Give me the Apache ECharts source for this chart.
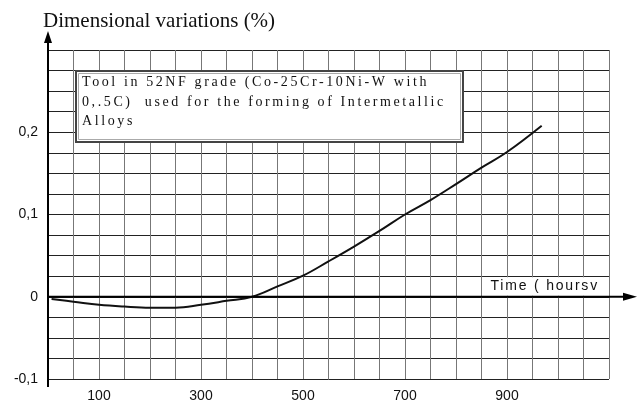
<!DOCTYPE html>
<html>
<head>
<meta charset="UTF-8">
<title>Dimensional variations</title>
<style>
  html, body { margin: 0; padding: 0; background: #fff; }
  #chart { width: 642px; height: 402px; }
</style>
</head>
<body>
<div id="chart"></div>
<script src="https://cdn.jsdelivr.net/npm/echarts@6/dist/echarts.min.js"></script>
<script>
// curve: time (hours) vs dimensional variation (%)
var hours     = [7, 50, 100, 150, 200, 250, 300, 350, 400, 450, 500, 550, 600, 650, 700, 750, 800, 850, 900, 968];
var variation = [-0.0028, -0.006, -0.0098, -0.012, -0.0133, -0.0133, -0.0098, -0.005, 0, 0.0126, 0.0256, 0.043, 0.061, 0.080, 0.100, 0.1175, 0.137, 0.157, 0.176, 0.208];

var xTickLabels = [100, 300, 500, 700, 900];
var yTickValues = [-0.1, 0, 0.1, 0.2];
var yTickLabels = ['-0,1', '0', '0,1', '0,2'];

var noteLines = [
  'Tool in 52NF grade (Co-25Cr-10Ni-W with',
  '0,.5C)  used for the forming of Intermetallic',
  'Alloys'
];
var axisName = 'Time ( hoursv';

// the scan uses wide letter spacing for the note and the axis name;
// the marker families (Tinos / Arimo) are only used to recognise those texts
var spacing = {Tinos: '2.6px', Arimo: '1.8px'};
var origFill = CanvasRenderingContext2D.prototype.fillText;
CanvasRenderingContext2D.prototype.fillText = function () {
  var ls = null;
  for (var k in spacing) { if (this.font.indexOf(k) >= 0) ls = spacing[k]; }
  if (ls && 'letterSpacing' in this) {
    var prev = this.letterSpacing;
    this.letterSpacing = ls;
    origFill.apply(this, arguments);
    this.letterSpacing = prev;
    return;
  }
  return origFill.apply(this, arguments);
};

var SERIF = "'Liberation Serif', serif";
var SANS = "'Liberation Sans', Arial, sans-serif";

var chart = echarts.init(document.getElementById('chart'), null, {renderer: 'canvas'});

chart.setOption({
  animation: false,
  textStyle: {fontFamily: SANS},
  title: {
    text: 'Dimensional variations (%)',
    left: 38, top: 6,
    textStyle: {fontFamily: SERIF, fontSize: 21, fontWeight: 'normal', color: '#111'}
  },
  grid: {left: 48, right: 33, top: 50, bottom: 23, outerBoundsMode: 'none'},
  xAxis: {
    type: 'value', min: 0, max: 1100, interval: 50,
    axisLine: {show: false}, axisTick: {show: false},
    splitLine: {show: true, lineStyle: {color: '#777', width: 1}},
    axisLabel: {
      margin: 10, color: '#111', fontSize: 14, fontFamily: SANS,
      formatter: function (v) { return xTickLabels.indexOf(Math.round(v)) >= 0 ? String(Math.round(v)) : ''; }
    }
  },
  yAxis: {
    type: 'value', min: -0.1, max: 0.3, interval: 0.025,
    axisLine: {show: false}, axisTick: {show: false},
    splitLine: {show: true, lineStyle: {color: '#222', width: 1}},
    axisLabel: {
      margin: 10, color: '#111', fontSize: 14, fontFamily: SANS,
      formatter: function (v) {
        for (var i = 0; i < yTickValues.length; i++) {
          if (Math.abs(yTickValues[i] - v) < 1e-9) return yTickLabels[i];
        }
        return '';
      }
    }
  },
  series: [{
    type: 'line',
    data: hours.map(function (h, i) { return [h, variation[i]]; }),
    smooth: 0.4, showSymbol: false, symbol: 'none',
    lineStyle: {color: '#111', width: 2},
    z: 5
  }]
});

// axes with arrows, the note box and the axis name, placed from the axis scales
var o  = chart.convertToPixel({gridIndex: 0}, [0, 0]);
var bl = chart.convertToPixel({gridIndex: 0}, [0, -0.1]);
var tr = chart.convertToPixel({gridIndex: 0}, [1100, 0.3]);
var tA = chart.convertToPixel({gridIndex: 0}, [850, 0.025]);

chart.setOption({
  graphic: [
    {type: 'rect', z: 100, shape: {x: tA[0] + 1, y: tA[1] + 1, width: tr[0] - tA[0] - 2, height: o[1] - tA[1] - 2},
     style: {fill: '#fff'}},
    {type: 'text', z: 101, x: tA[0] + 9, y: (tA[1] + o[1]) / 2,
     style: {text: axisName, fontSize: 14, fontFamily: "'Liberation Sans', Arimo", fill: '#111', verticalAlign: 'middle'}},
    {type: 'line', z: 102, shape: {x1: o[0], y1: bl[1] + 8, x2: o[0], y2: tr[1] - 12},
     style: {stroke: '#000', lineWidth: 2}},
    {type: 'polygon', z: 102, shape: {points: [[o[0], tr[1] - 19], [o[0] - 4, tr[1] - 7], [o[0] + 4, tr[1] - 7]]},
     style: {fill: '#000'}},
    {type: 'line', z: 102, shape: {x1: o[0], y1: o[1], x2: tr[0] + 18, y2: o[1]},
     style: {stroke: '#000', lineWidth: 2}},
    {type: 'polygon', z: 102, shape: {points: [[tr[0] + 28, o[1]], [tr[0] + 14, o[1] - 4], [tr[0] + 14, o[1] + 4]]},
     style: {fill: '#000'}},
    {type: 'rect', z: 100, shape: {x: 76, y: 71, width: 387, height: 71},
     style: {fill: '#fff', stroke: '#444', lineWidth: 2}},
    {type: 'rect', z: 100, shape: {x: 78.5, y: 73.5, width: 382, height: 66},
     style: {fill: 'none', stroke: '#aaa', lineWidth: 1}},
    {type: 'text', z: 101, x: 82, y: 73,
     style: {text: noteLines.join('\n'), fontSize: 14, lineHeight: 19.5, fontFamily: "'Liberation Serif', Tinos", fill: '#111'}}
  ]
});
</script>
</body>
</html>
